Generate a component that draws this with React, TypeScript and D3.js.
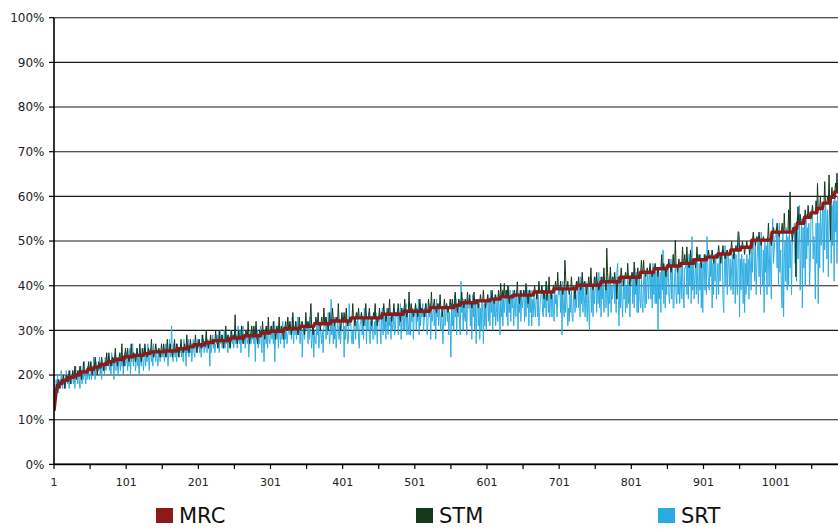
import React from 'react';
import * as d3 from 'd3';

const yTickValues = [0, 10, 20, 30, 40, 50, 60, 70, 80, 90, 100];
const xLabelValues = [1, 101, 201, 301, 401, 501, 601, 701, 801, 901, 1001];
const legendNames = ['MRC', 'STM', 'SRT'];
const legendColors = ['#8c1a1b', '#16381c', '#29abe2'];

// MRC read as plateaus: [value %, number of points]
const mrcRuns: [number, number][] = [
  [12, 1], [13.5, 1], [15, 1], [16.2, 1], [17, 1], [17.5, 2], [18.1, 5], [18.8, 8], [19.5, 8], [20, 8],
  [20.7, 11], [21.3, 9], [21.8, 9], [22.4, 10], [23, 9], [23.5, 14], [24.1, 13], [24.4, 14], [24.8, 9], [25.2, 19],
  [25.4, 18], [25.9, 14], [26.3, 9], [26.8, 16], [27.3, 12], [27.7, 23], [28.3, 19], [28.8, 23], [29.4, 13], [29.8, 19],
  [30.4, 23], [30.9, 19], [31.5, 23], [32.1, 28], [32.8, 43], [33.6, 30], [34.3, 37], [35.1, 33], [35.6, 9], [36.2, 22],
  [36.6, 19], [37, 14], [37.5, 18], [37.9, 28], [38.6, 28], [39.3, 32], [40.1, 33], [40.9, 27], [41.9, 28], [43, 19],
  [43.8, 18], [44.4, 19], [45, 18], [45.8, 18], [46.4, 15], [47.1, 18], [48, 14], [48.6, 15], [50.2, 28], [52, 30],
  [52.8, 5], [54, 10], [55.3, 9], [56.3, 9], [57.3, 8], [58.5, 10], [59.8, 6], [61, 6],
];

const stm: number[] = [
  12,14,17,16,18,17,19,18,17,18.1,19,18.1,18.8,20,18.8,17,18.8,20,18.8,19,19.5,21,19.5,18,19.5,
  19.5,21,19.5,20,22,20,19,20,21,20,20.7,22,20.7,19,20.7,20.7,23,20.7,21,20.7,20.7,20.7,21.3,23,21.3,
  21.3,23,21.3,20,21.3,21.3,21.8,24,21.8,21.8,20,21.8,23,21.8,21.8,22.4,24,22.4,22.4,21,22.4,23,22.4,25,22.4,
  23,25,23,23,22,23,24,23,23,23.5,26,23.5,23.5,22,23.5,23.5,25,23.5,23.5,27,23.5,23.5,22,24.1,26,
  24.1,24.1,26,24.1,23,24.1,24.1,27,24.1,24.1,25,24.4,24.4,23,24.4,26,24.4,24.4,24.4,27,24.4,23,24.4,26,24.4,
  24.8,27,24.8,24.8,24,24.8,26,24.8,24.8,25.2,28,25.2,25.2,24,25.2,25.2,27,25.2,25.2,25.2,26,25.2,24,25.2,27,
  25.2,25.2,27,25.4,25.4,24,25.4,28,25.4,25.4,25.4,27,25.4,25.4,24,25.4,25.4,28,25.4,25.4,27,25.9,25.9,24,25.9,
  25.9,28,25.9,25.9,25,25.9,27,25.9,25.9,29,26.3,26.3,25,26.3,28,26.3,26.3,26.3,27,26.8,26.8,29,26.8,25,26.8,
  26.8,28,26.8,26.8,26,26.8,29,26.8,26.8,26.8,27.3,30,27.3,27.3,26,27.3,27.3,29,27.3,27.3,28,27.3,27.7,27.7,30,
  27.7,27.7,26,27.7,30,27.7,27.7,27.7,29,27.7,26,27.7,27.7,31,27.7,27.7,29,27.7,27.7,26,28.3,30,28.3,28.3,29,
  28.3,33.5,28.3,28.3,27,28.3,30,28.3,28.3,28.3,31,28.3,27,28.3,28.3,28.8,30,28.8,28.8,32,28.8,27,28.8,28.8,31,
  28.8,28.8,31,28.8,28.8,32,28.8,27,28.8,28.8,30,28.8,29.4,29.4,32,29.4,29.4,28,29.4,31,29.4,29.4,33,29.4,29.4,
  29.8,31,29.8,29.8,32,29.8,29.8,28,29.8,31,29.8,29.8,33,29.8,29.8,31,29.8,29.8,28,30.4,30.4,32,30.4,30.4,33,
  30.4,30.4,32,30.4,29,30.4,34,30.4,30.4,30.4,32,30.4,30.4,29,30.4,33,30.4,30.9,30.9,32,30.9,30.9,29,30.9,34,
  30.9,30.9,32,30.9,30.9,33,36,30.9,30.9,29,30.9,31.5,31.5,33,31.5,31.5,34,31.5,31.5,30,31.5,33,31.5,31.5,35,
  31.5,31.5,33,31.5,31.5,30,31.5,34,31.5,32.1,32.1,35,32.1,32.1,31,32.1,33,32.1,32.1,36,32.1,32.1,30,32.1,34,
  32.1,32.1,34,32.1,32.1,35,32.1,31,32.1,32.1,33,32.1,32.8,32.8,36,32.8,32.8,31,32.8,34,32.8,32.8,35,32.8,32.8,
  32.8,34,32.8,32.8,31,32.8,32.8,36,32.8,32.8,33,32.8,35,32.8,32.8,31,32.8,32.8,34,32.8,36,32.8,32.8,31,32.8,
  32.8,35,32.8,32.8,34,33.6,33.6,36,33.6,33.6,32,33.6,33.6,35,33.6,37,33.6,33.6,32,33.6,33.6,36,33.6,33.6,34,
  33.6,33.6,36,33.6,33.6,32,33.6,35,33.6,33.6,34.3,37,34.3,34.3,33,34.3,34.3,38.6,34.3,34.3,36,34.3,34.3,33,34.3,
  34.3,36,34.3,34.3,33,34.3,34.3,37,34.3,34.3,35,34.3,34.3,33,34.3,36,34.3,34.3,34.3,37,34.3,34.3,35.1,38.6,35.1,
  35.1,35.1,37,35.1,35.1,34,35.1,36,35.1,35.1,38,35.1,35.1,33,35.1,35.1,37,35.1,35.1,36,35.1,34,35.1,35.1,37,
  35.1,35.1,37,35.1,35.1,35.6,38.6,35.6,35.6,34,35.6,37,35.6,35.6,36.2,38.6,36.2,36.2,35,36.2,37,36.2,36.2,38.6,36.2,
  36.2,38,36.2,36.2,35,36.2,36.2,38.6,36.2,36.2,37,36.6,36.6,35,36.6,36.6,38,36.6,36.6,36.6,39,36.6,36.6,35,36.6,
  36.6,38,36.6,36.6,36.6,37,37,39,37,37,36,37,38,37,37,37,39,37,37,40.5,37.5,37.5,39,37.5,40.5,
  37.5,37.5,39,37.5,40,37.5,36,37.5,37.5,38,37.5,37.5,37.9,39,37.9,37.9,37.9,40.9,37.9,37.9,36,37.9,39,37.9,37.9,
  37.9,39,37.9,37.9,40.5,37.9,37.9,36,37.9,39,37.9,37.9,38,37.9,37.9,38.6,40,38.6,38.6,37,38.6,38.6,41,38.6,38.6,
  38.6,40,38.6,38.6,37,38.6,38.6,41,36.7,38.6,38.6,42,38.6,38.6,37,38.6,38.6,40,39.3,39.3,41,39.3,39.3,43,39.3,
  39.3,39.3,41,39.3,39.3,38,39.3,39.3,45.7,42,39.3,39.3,41,39.3,38,39.3,39.3,42,39.3,39.3,40,39.3,37,39.3,41,
  40.1,40.1,42,40.1,40.1,39,40.1,43,40.1,40.1,41,40.1,40.1,38,40.1,40.1,42,40.1,40.1,44,40.1,40.1,39,40.1,42,
  40.1,40.1,43,40.1,40.1,39,40.1,40.1,40.9,42,40.9,40.9,44,40.9,40.9,39,48.4,43,40.9,40.9,40.9,44.2,40.9,40.9,42,
  40.9,40.9,43,40.9,40.9,37,40.9,42,40.9,40.9,41.9,44,41.9,41.9,40,41.9,41.9,43,41.9,41.9,45,41.9,41.9,40,41.9,
  41.9,43,41.9,41.9,45.3,41.9,41.9,40,41.9,44,41.9,41.9,41.9,43,45.7,43,43,45.7,43,43,42,43,44,43,43,
  43,45,43,43,42,43,43,43.8,45,43.8,43.8,43.8,42,43.8,43.8,43.8,43.8,46.9,43.8,43.8,45,43.8,43.8,42,43.8,
  44.4,44.4,46,44.4,44.4,43,44.4,44.4,47,44.4,44.4,50.2,44.4,44.4,43,44.4,46,44.4,44.4,45,45,48.7,45,45,47,
  45,45,48.7,45,45,44,45,48,45,45,46,45,45.8,45.8,44,45.8,48.7,45.8,45.8,47,45.8,45.8,44,45.8,46,
  45.8,45.8,47,45.8,45.8,46.4,46.4,48,46.4,46.4,46.4,46.4,48,46.4,45,46.4,46.4,47,46.4,46.4,47.1,49,47.1,47.1,45,
  47.1,47.1,49,47.1,47.1,46,47.1,47.1,48,47.1,47.1,47.1,47.1,48,50,48,48,46,48,48,49,48,48,52.1,52,
  48,48,48.6,48.6,50,48.6,48.6,47,48.6,48.6,50,48.6,48.6,48.6,47,48.6,48.6,50.2,50.2,52,50.2,50.2,49,50.2,51,
  50.2,50.2,52,50.2,50.2,49,50.2,50.2,51,50.2,50.2,50.2,50.2,50.2,50.2,54,50.2,50.2,50.2,49,52,52,53,52,52,
  52,52,54,52,52,51,52,52,52,54,52,52,56.2,52,52,52,52,52,57,52,61,52,52,50,52,
  52.8,52.8,52.8,42,52.8,54,57.7,54,54,56,54,54,54,55,54,55.3,57,55.3,55.3,55.3,58,55.3,55.3,55.3,56.3,
  56.3,58,56.3,56.3,56.3,56.3,59,56.3,62.9,57.3,57.3,57.3,60,57.3,57.3,57.3,58.5,58.5,63.3,58.5,58.5,58.5,60,58.5,64.8,
  58.5,50.2,59.8,62,59.8,59.8,59.8,61,63,61,65.2,61,61,
];

const srt: number[] = [
  13,18,16,19,17,20,16,19,18,17,21,18,17,20,19,18,17,21,19,18,20,17,21,19,18,
  19,21,18,20,17,22,19,20,18,21,19,17,22,20,18,21,19,23,20,18,21,19,22,20,19,
  21,23,19,22,20,24,21,19,22,23,20,22,21,24,20,22,19,23,21,22,20,24,21,22,23,
  22,24,21,23,20,25,22,24,19,23,25,21,24,22,20,24,23,21,25,22,24,20,23,25,22,
  23,25,21,24,22,26,20,24,23,27,22,25,24,21,23,26,22,24,20,25,23,22,26,24,21,
  24,26,22,25,23,27,24,21,25,26,23,25,22,27,24,25,23,26,24,22,25,26,23,25,24,
  25,24,26,23,25,27,24,26,22,25,28,24,26,31,25,23,27,25,24,26,23,27,25,24,26,
  25,27,24,26,23,28,25,26,22,27,25,28,24,26,25,27,23,26,28,25,24,27,26,25,28,
  26,28,25,27,24,29,26,28,25,27,26,29,25,28,26,27,22,28,25,27,29,26,28,25,27,
  27,29,26,28,25,30,27,29,26,28,27,30,26,29,27,28,25,29,27,26,30,28,27,29,26,
  28,30,27,29,26,31,28,27,30,25,29,28,31,27,29,26,30,28,27,29,24,28,30,27,29,
  28,30,27,29,23,31,28,30,26,29,27,31,28,25,30,29,23,28,30,27,29,26,31,28,27,
  29,31,28,30,27,32,23,29,31,28,30,26,31,29,27,30,28,32,29,26,31,28,30,27,29,
  30,32,29,31,28,33,30,27,31,29,32,28,30,33,29,31,27,30,32,24,29,31,28,30,32,
  30,32,27,31,28,33,30,26,29,31,24,30,28,27,31,29,32,26,28,31,29,27,30,25,31,
  31,33,28,32,29,34,30,27,30,37,29,32,27,33,28,31,26,29,33,30,28,31,27,30,33,
  32,33,24,31,28,34,30,27,28,36,31,33,29,27,30,27,33,31,28,32,30,34,28,26,31,
  32,34,29,33,28,35,31,34,27,33,30,34,29,27,32,30,33,28,28,32,29,34,31,27,33,
  32,34,30,27,33,35,29,34,30,33,28,35,32,29,34,31,33,28,34,30,31,35,29,30,34,
  33,35,29,34,31,36,28,33,34,30,35,30,33,36,29,34,31,29,35,29,34,32,35,28,33,
  34,36,30,35,32,37,29,36,31,35,33,36,30,32,35,33,36,29,31,35,33,36,28,34,32,
  34,36,31,35,28,37,33,36,31,35,33,30,34,32,27,33,35,31,34,36,32,35,29,34,31,
  24,36,31,35,30,38,33,37,29,36,33,37,31,29,41,34,36,30,37,33,32,36,29,37,35,
  35,37,31,36,28,38,33,37,30,36,27,35,37,31,36,28,35,30,37,34,27,36,31,35,30,
  36,38,32,37,31,39,34,38,30,37,33,38,31,34,37,32,38,35,29,37,33,38,31,37,34,
  37,39,33,38,31,40,34,39,32,38,35,39,31,35,38,33,39,36,30,38,34,39,32,38,35,
  37,39,32,38,33,40,35,39,31,38,34,39,31,37,33,38,35,33,37,39,33,38,31,34,37,
  38,40,34,33,39,35,38,33,37,40,34,38,33,36,39,33,38,35,32,39,36,38,33,37,39,
  38,40,34,39,29,41,35,33,39,34,40,36,31,35,32,38,34,39,33,32,38,40,34,38,35,
  39,41,35,40,33,42,36,41,34,40,37,33,41,36,32,40,35,30,39,41,34,40,33,39,36,
  40,42,34,41,36,43,35,42,33,41,37,42,34,36,41,35,42,38,33,41,36,43,34,40,37,
  40,42,36,41,34,43,45,37,31,41,35,42,36,33,41,37,42,34,40,35,43,36,41,33,40,
  41,43,36,42,35,44,38,43,34,42,34,43,37,35,42,36,34,41,43,35,42,36,41,43,37,
  42,44,37,43,35,45,38,44,36,43,36,44,30,42,37,43,34,47,39,48,36,44,35,43,38,
  43,45,38,36,41,46,37,44,35,35,42,45,38,36,44,38,45,36,40,44,37,46,39,35,44,
  44,46,38,45,37,47,40,46,36,51,39,46,37,42,45,38,46,40,36,45,39,47,35,45,34,
  45,47,39,46,38,51,45,40,39,47,42,46,35,45,38,47,41,46,37,42,45,38,47,41,46,
  46,48,37,34,44,49,40,48,38,47,45,40,46,39,44,47,38,46,48,36,47,41,38,46,51,
  33,46,39,47,44,36,46,34,45,38,47,40,46,37,48,45,39,49,43,51,48,41,50,38,44,
  49,51,42,50,38,52,44,40,48,34,50,43,49,38,51,46,40,50,44,37,51,55,45,48,51,
  51,53,44,52,40,54,43,48,38,35,52,33,46,50,41,53,39,51,40,52,44,50,38,49,51,
  52,54,45,53,41,55,46,50,58,39,47,55,35,53,44,54,40,56,46,53,49,54,40,45,55,
  55,57,46,51,48,37,54,45,56,36,54,44,57,49,53,58,43,57,48,59,56,46,57,42,55,
  57,59,45,58,49,59,41,60,52,59,45,60,58,
];

const W = 838;
const H = 530;
const FONT = 'DejaVu Sans, Verdana, sans-serif';

export default function App() {
  const mrc: number[] = [];
  mrcRuns.forEach(([v, n]) => {
    for (let k = 0; k < n; k++) mrc.push(v);
  });

  const x = d3.scaleLinear().domain([1, 1087.4]).range([54, 838]);
  const y = d3.scaleLinear().domain([0, 100]).range([464.4, 17.7]);

  const line = d3
    .line<number>()
    .x((_, i) => x(i + 1))
    .y((d) => y(d));

  const xTicks = d3.range(1, 1088, 50);
  const legendX = [156, 416, 658];

  return (
    <div style={{ position: 'fixed', left: 0, top: 0 }}>
      <svg width={W} height={H} style={{ display: 'block', background: '#fff' }}>
        <rect x={0} y={0} width={W} height={H} fill="#fff" />
        {yTickValues.map((v) => (
          <line key={'g' + v} x1={54} x2={W} y1={y(v)} y2={y(v)} stroke="#1a1a1a" strokeWidth={1.1} />
        ))}
        <defs>
          <clipPath id="plot">
            <rect x={54} y={10} width={W - 54} height={455} />
          </clipPath>
        </defs>
        <g clipPath="url(#plot)">
          <path d={line(srt) || ''} fill="none" stroke={legendColors[2]} strokeWidth={0.95} strokeLinejoin="round" />
          <path d={line(stm) || ''} fill="none" stroke={legendColors[1]} strokeWidth={1} strokeLinejoin="round" />
          <path d={line(mrc) || ''} fill="none" stroke={legendColors[0]} strokeWidth={3.4} strokeLinejoin="round" />
        </g>
        <line x1={54} x2={54} y1={17.7} y2={464.4} stroke="#000" strokeWidth={1.6} />
        <line x1={54} x2={W} y1={464.4} y2={464.4} stroke="#000" strokeWidth={1.6} />
        {yTickValues.map((v) => (
          <g key={'yt' + v}>
            <line x1={49} x2={54} y1={y(v)} y2={y(v)} stroke="#000" strokeWidth={1.2} />
            <text
              x={44.5}
              y={y(v)}
              dy="0.35em"
              textAnchor="end"
              fontFamily={FONT}
              fontSize={12}
              fill="#222"
            >
              {v + '%'}
            </text>
          </g>
        ))}
        {xTicks.map((t) => (
          <line key={'xt' + t} x1={x(t)} x2={x(t)} y1={464} y2={469} stroke="#000" strokeWidth={1.2} />
        ))}
        {xLabelValues.map((t) => (
          <text
            key={'xl' + t}
            x={x(t)}
            y={482}
            dy="0.35em"
            textAnchor="middle"
            fontFamily={FONT}
            fontSize={11}
            fill="#222"
          >
            {t}
          </text>
        ))}
        {legendNames.map((name, i) => (
          <g key={name}>
            <rect x={legendX[i]} y={508} width={17} height={15} fill={legendColors[i]} />
            <text
              x={legendX[i] + 23}
              y={516}
              dy="0.35em"
              fontFamily={FONT}
              fontSize={21}
              fill="#111"
            >
              {name}
            </text>
          </g>
        ))}
      </svg>
    </div>
  );
}
